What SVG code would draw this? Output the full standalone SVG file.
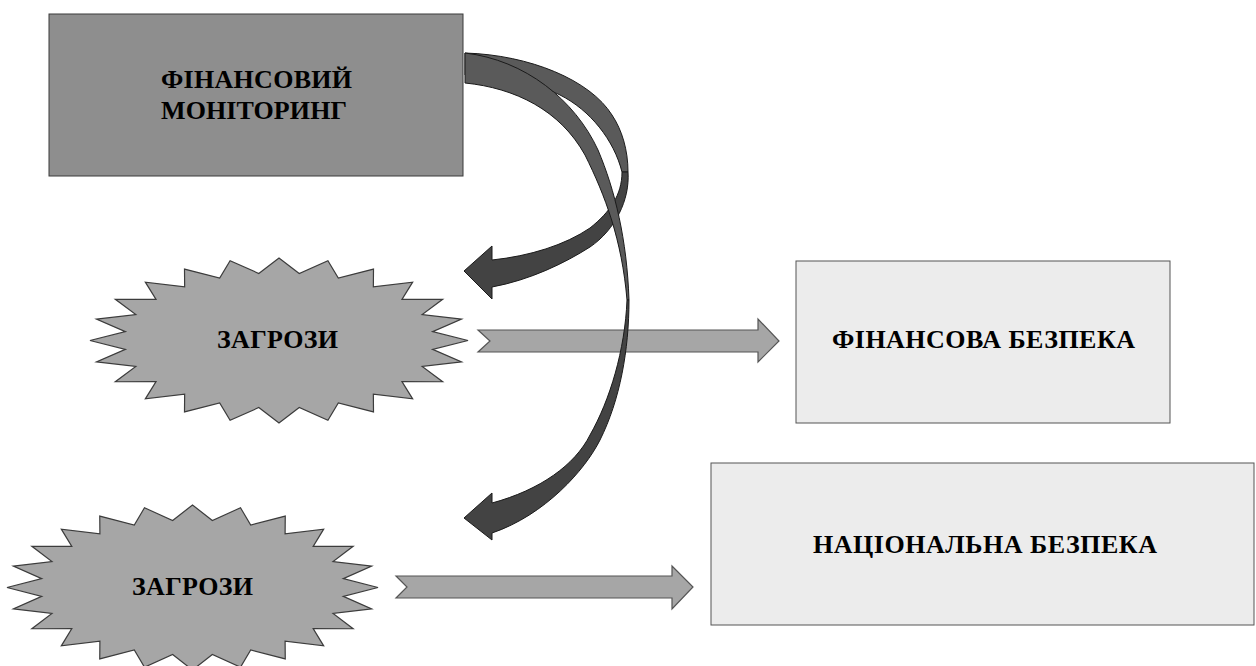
<svg xmlns="http://www.w3.org/2000/svg" xmlns:xlink="http://www.w3.org/1999/xlink" width="1256" height="666" viewBox="0 0 1256 666">
<style>
.box1{fill:#8e8e8e;stroke:#3a3a3a;stroke-width:1}
.box2{fill:#ececec;stroke:#555;stroke-width:1}
.star{fill:#a6a6a6;stroke:#3c3c3c;stroke-width:1.2;vector-effect:non-scaling-stroke}
.blk{fill:#a6a6a6;stroke:#555;stroke-width:1.2}
.back{fill:#5a5a5a;stroke:#1a1a1a;stroke-width:1}
.front{fill:#434343;stroke:#1a1a1a;stroke-width:1}
.t{font-family:"Liberation Serif","Times New Roman",serif;font-weight:bold;font-size:26px;fill:#000}
</style>
<defs>
<polygon id="star24" class="star" points="1,0 0.8129,0.1070 0.9659,0.2588 0.7576,0.3138 0.8660,0.5 0.6506,0.4992 0.7071,0.7071 0.4992,0.6506 0.5,0.8660 0.3138,0.7576 0.2588,0.9659 0.1070,0.8129 0,1 -0.1070,0.8129 -0.2588,0.9659 -0.3138,0.7576 -0.5,0.8660 -0.4992,0.6506 -0.7071,0.7071 -0.6506,0.4992 -0.8660,0.5 -0.7576,0.3138 -0.9659,0.2588 -0.8129,0.1070 -1,0 -0.8129,-0.1070 -0.9659,-0.2588 -0.7576,-0.3138 -0.8660,-0.5 -0.6506,-0.4992 -0.7071,-0.7071 -0.4992,-0.6506 -0.5,-0.8660 -0.3138,-0.7576 -0.2588,-0.9659 -0.1070,-0.8129 0,-1 0.1070,-0.8129 0.2588,-0.9659 0.3138,-0.7576 0.5,-0.8660 0.4992,-0.6506 0.7071,-0.7071 0.6506,-0.4992 0.8660,-0.5 0.7576,-0.3138 0.9659,-0.2588 0.8129,-0.1070"/>
</defs>

<g id="node-monitoring">
<rect class="box1" x="49" y="14" width="414" height="162"/>
<text class="t" x="161" y="88" textLength="191">ФІНАНСОВИЙ</text>
<text class="t" x="161" y="119" textLength="186">МОНІТОРИНГ</text>
</g>

<g id="node-threats1">
<use xlink:href="#star24" transform="translate(279,340.5) scale(189,82.5)"/>
<text class="t" x="277.5" y="348" text-anchor="middle" textLength="121">ЗАГРОЗИ</text>
</g>

<g id="node-threats2">
<use xlink:href="#star24" transform="translate(192.5,587.5) scale(185.5,82.5)"/>
<text class="t" x="192.5" y="595" text-anchor="middle" textLength="121">ЗАГРОЗИ</text>
</g>

<g id="node-fin-security">
<rect class="box2" x="796" y="261" width="374" height="162"/>
<text class="t" x="983.5" y="348" text-anchor="middle" textLength="303">ФІНАНСОВА БЕЗПЕКА</text>
</g>

<g id="node-nat-security">
<rect class="box2" x="711" y="463" width="543" height="162"/>
<text class="t" x="985" y="553" text-anchor="middle" textLength="344">НАЦІОНАЛЬНА БЕЗПЕКА</text>
</g>

<g id="connectors">
<polygon class="blk" points="478,330 758,330 758,319 779,341 758,362 758,352 478,352 490,341"/>
<polygon class="blk" points="396,576 672,576 672,566 693,587 672,609 672,598 396,598 407,587"/>
<path class="back" d="M465,53 C530,55 590,80 612,115 C622,130 628,150 628,172 L622,172 C614,140 590,110 560,95 C530,80 495,75 465,75 Z"/>
<path class="front" d="M628,172 C630,200 615,230 590,247 C565,263 530,280 492,287 L492,299 L464,271 L492,246 L492,260 C530,256 565,245 590,228 C610,212 622,195 622,172 Z"/>
<path class="back" d="M465,53 C525,60 575,100 598,150 C615,190 627,240 629,300 L627,300 C622,240 605,195 585,155 C560,110 515,88 465,83 Z"/>
<path class="front" d="M629,300 C629,350 620,400 600,440 C585,470 545,515 492,533 L492,540 L464,518 L492,493 L492,503 C540,490 575,465 590,435 C610,400 625,350 627,300 Z"/>
</g>
</svg>
